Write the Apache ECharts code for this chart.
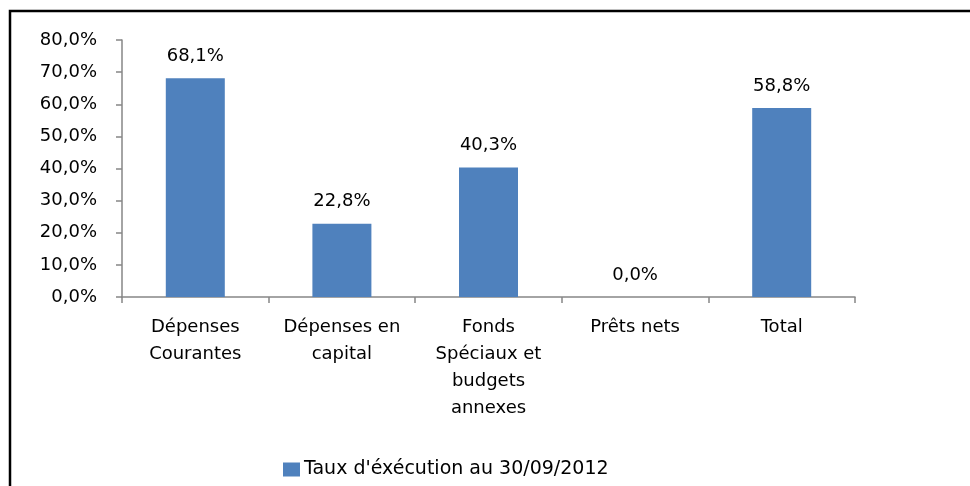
<!DOCTYPE html>
<html>
<head>
<meta charset="utf-8">
<script src="https://cdn.jsdelivr.net/npm/echarts@6/dist/echarts.min.js"></script>
<style>html,body{margin:0;padding:0;background:#fff}#c{width:970px;height:486px}</style>
</head>
<body>
<div id="c"></div>
<script>
var categories = ["Dépenses\nCourantes", "Dépenses en\ncapital", "Fonds\nSpéciaux et\nbudgets\nannexes", "Prêts nets", "Total"];
var values = [68.1, 22.8, 40.3, 0.0, 58.8];
var seriesName = "Taux d'éxécution au 30/09/2012";
var yTicks = [0, 10, 20, 30, 40, 50, 60, 70, 80];

function pct(v) { return v.toFixed(1).replace('.', ',') + '%'; }

var FONT = 'DejaVu Sans';
var chart = echarts.init(document.getElementById('c'), null, {renderer: 'canvas'});
chart.setOption({
  animation: false,
  backgroundColor: '#ffffff',
  graphic: [{
    type: 'rect',
    shape: {x: 10, y: 11, width: 1100, height: 600},
    style: {fill: 'none', stroke: '#000', lineWidth: 2.5},
    silent: true
  }],
  grid: {left: 122, top: 40, right: 115, bottom: 189},
  legend: {
    left: 283, top: 460, padding: 0,
    itemWidth: 17, itemHeight: 14, itemGap: 4,
    icon: 'rect',
    textStyle: {fontFamily: FONT, fontSize: 19, color: '#000', padding: [0, 0, 0, -1]},
    data: [seriesName]
  },
  xAxis: {
    type: 'category',
    data: categories,
    axisLine: {lineStyle: {color: '#868686', width: 1.5}},
    axisTick: {show: true, length: 6, lineStyle: {color: '#868686', width: 1.5}},
    axisLabel: {fontFamily: FONT, fontSize: 18, color: '#000', lineHeight: 27, margin: 17, interval: 0}
  },
  yAxis: {
    type: 'value',
    min: 0, max: 80, interval: 10,
    splitLine: {show: false},
    axisLine: {show: true, lineStyle: {color: '#868686', width: 1.5}},
    axisTick: {show: true, length: 6, lineStyle: {color: '#868686', width: 1.5}},
    axisLabel: {fontFamily: FONT, fontSize: 18, color: '#000', margin: 25, formatter: function (v) { return pct(v); }}
  },
  series: [{
    name: seriesName,
    type: 'bar',
    data: values,
    barWidth: 59,
    itemStyle: {color: '#4f81bd'},
    label: {show: true, position: 'top', distance: 13, fontFamily: FONT, fontSize: 18, color: '#000', formatter: function (p) { return pct(p.value); }}
  }]
});
</script>
</body>
</html>
